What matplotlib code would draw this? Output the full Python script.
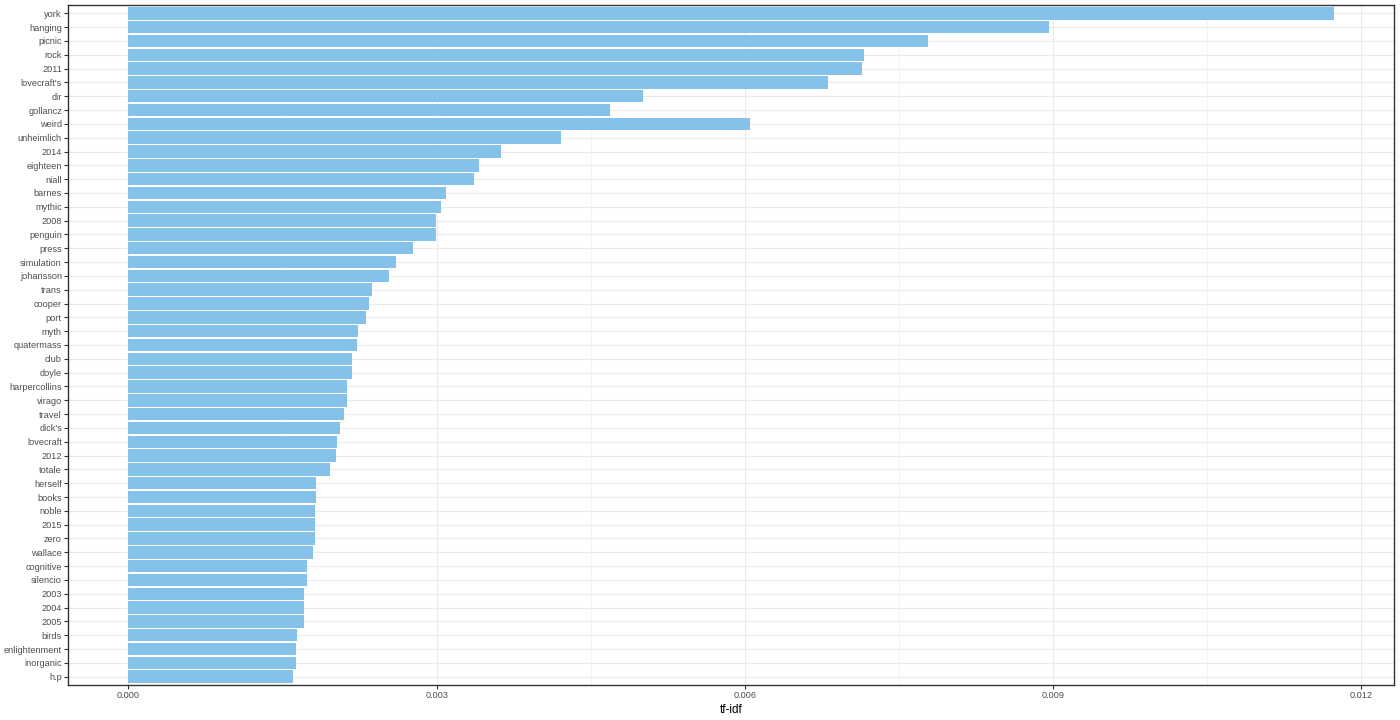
import matplotlib
matplotlib.use("Agg")
import matplotlib.pyplot as plt
import numpy as np

plt.rcParams['font.family'] = ['Liberation Sans', 'DejaVu Sans']

terms = ["york", "hanging", "picnic", "rock", "2011", "lovecraft's", "dir", "gollancz",
         "weird", "unheimlich", "2014", "eighteen", "niall", "barnes", "mythic", "2008",
         "penguin", "press", "simulation", "johansson", "trans", "cooper", "port", "myth",
         "quatermass", "club", "doyle", "harpercollins", "virago", "travel", "dick's",
         "lovecraft", "2012", "totale", "herself", "books", "noble", "2015", "zero",
         "wallace", "cognitive", "silencio", "2003", "2004", "2005", "birds",
         "enlightenment", "inorganic", "h.p"]
tfidf = [0.01173, 0.00896, 0.00778, 0.00716, 0.00714, 0.00681, 0.00501, 0.00469,
         0.00605, 0.00421, 0.00363, 0.00341, 0.00336, 0.00309, 0.00304, 0.00299,
         0.00299, 0.00277, 0.00261, 0.00254, 0.00237, 0.00234, 0.00231, 0.00224,
         0.00223, 0.00218, 0.00218, 0.00213, 0.00213, 0.00210, 0.00206,
         0.00203, 0.00202, 0.00196, 0.00183, 0.00183, 0.00182, 0.00182, 0.00182,
         0.00180, 0.00174, 0.00174, 0.00171, 0.00171, 0.00171, 0.00164,
         0.00163, 0.00163, 0.00160]
xticks = [0.000, 0.003, 0.006, 0.009, 0.012]
xlabel = "tf-idf"

fig = plt.figure(figsize=(14, 7.2), dpi=100)
ax = fig.add_axes([68/1400, 1-685/720, (1394-68)/1400, (685-5)/720])

n = len(terms)
ypos = np.arange(n)[::-1]
ax.barh(ypos, tfidf, height=0.9, color="#85C1E9", zorder=3)

ax.set_xticks(xticks)
ax.set_xticklabels([f"{t:.3f}" for t in xticks])
minor = [(a + b) / 2 for a, b in zip(xticks[:-1], xticks[1:])]
ax.set_xticks(minor, minor=True)
ax.set_yticks(ypos)
ax.set_yticklabels(terms)

vmax = max(tfidf)
ax.set_xlim(-0.05*vmax, 1.05*vmax)
ax.set_ylim(-0.6, n - 1 + 0.6)

ax.grid(which="major", color="#EBEBEB", linewidth=0.8, zorder=0)
ax.grid(which="minor", axis="x", color="#EBEBEB", linewidth=0.4, zorder=0)
ax.set_axisbelow(True)

for s in ax.spines.values():
    s.set_color("#333333")
    s.set_linewidth(1.0)

ax.tick_params(axis="both", which="major", length=2.9, width=0.8, color="#333333",
               labelsize=6.6, labelcolor="#4D4D4D", pad=1.5)
ax.tick_params(axis="both", which="minor", length=0)
ax.set_xlabel(xlabel, fontsize=8.5, color="black", labelpad=3)

fig.savefig("out.png", dpi=100)
